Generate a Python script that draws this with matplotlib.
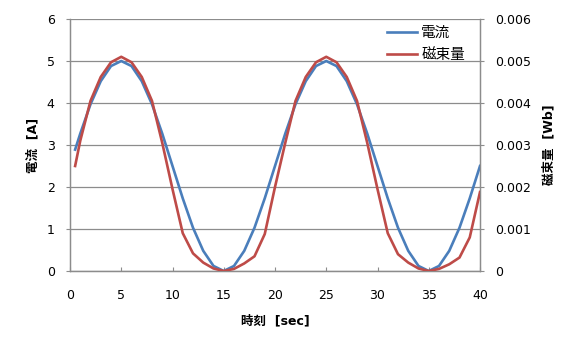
import matplotlib
matplotlib.use("Agg")
import matplotlib.pyplot as plt

plt.rcParams['font.family'] = ['DejaVu Sans', 'Noto Sans CJK JP']

# time [sec]
time_s = [0.5, 1, 2, 3, 4, 5, 6, 7, 8, 9, 10, 11, 12, 13, 14, 15, 16, 17, 18, 19, 20,
          21, 22, 23, 24, 25, 26, 27, 28, 29, 30, 31, 32, 33, 34, 35, 36, 37, 38, 39, 40]
# current [A]
current_a = [2.89, 3.27, 3.97, 4.52, 4.88, 5.0, 4.88, 4.52, 3.97, 3.27, 2.5, 1.73, 1.03,
             0.48, 0.12, 0.0, 0.12, 0.48, 1.03, 1.73, 2.5,
             3.27, 3.97, 4.52, 4.88, 5.0, 4.88, 4.52, 3.97, 3.27, 2.5, 1.73, 1.03,
             0.48, 0.12, 0.0, 0.12, 0.48, 1.03, 1.73, 2.5]
# magnetic flux [Wb]
flux_wb = [0.0025, 0.0031, 0.00405, 0.00462, 0.00497, 0.0051, 0.00497, 0.00462, 0.00405,
           0.00305, 0.00195, 0.0009, 0.00042, 0.0002, 0.00006, 0.0, 0.00005, 0.00018,
           0.00035, 0.00088, 0.0020,
           0.00305, 0.00405, 0.00462, 0.00497, 0.0051, 0.00497, 0.00462, 0.00405,
           0.00305, 0.00195, 0.0009, 0.0004, 0.0002, 0.00006, 0.0, 0.00005, 0.00016,
           0.00032, 0.0008, 0.00188]

left_ticks = [0, 1, 2, 3, 4, 5, 6]
right_ticks = [0, 0.001, 0.002, 0.003, 0.004, 0.005, 0.006]
right_tick_labels = ['0', '0.001', '0.002', '0.003', '0.004', '0.005', '0.006']
x_ticks = [0, 5, 10, 15, 20, 25, 30, 35, 40]

BLUE = '#4A7EBB'
RED = '#BE4B48'
GRID = '#8C8C8C'

W, H = 578, 348
fig = plt.figure(figsize=(W / 100, H / 100), dpi=100)
fig.subplots_adjust(left=70 / W, right=480 / W, bottom=1 - 271 / H, top=1 - 19 / H)
ax = fig.add_subplot(111)
ax2 = ax.twinx()

l1, = ax.plot(time_s, current_a, color=BLUE, lw=1.9, label='電流', zorder=3)
l2, = ax2.plot(time_s, flux_wb, color=RED, lw=1.9, label='磁束量', zorder=3)

ax.set_xlim(0, 40)
ax.set_ylim(0, 6)
ax2.set_ylim(0, 0.006)
ax.set_xticks(x_ticks)
ax.set_yticks(left_ticks)
ax2.set_yticks(right_ticks)
ax2.set_yticklabels(right_tick_labels)

ax.grid(axis='y', color=GRID, lw=0.9)
ax.set_axisbelow(True)

for a in (ax, ax2):
    for s in a.spines.values():
        s.set_color(GRID)
        s.set_linewidth(0.9)
    a.spines['top'].set_visible(False)

ax.tick_params(axis='x', direction='in', length=3, color=GRID, labelsize=9, pad=13)
ax.tick_params(axis='y', direction='out', length=3, color=GRID, labelsize=9, pad=8)
ax2.tick_params(axis='y', direction='out', length=3, color=GRID, labelsize=9, pad=8)

ax.set_xlabel('時刻  [sec]', fontsize=9, fontweight='bold', labelpad=9)
ax.set_ylabel('電流  [A]', fontsize=9, fontweight='bold', labelpad=5)
ax2.set_ylabel('磁束量  [Wb]', fontsize=9, fontweight='bold', rotation=90, labelpad=8)

leg = ax2.legend(handles=[l1, l2], loc='upper left',
                 bbox_to_anchor=(381 / W, 1 - 19 / H), bbox_transform=fig.transFigure,
                 frameon=False, fontsize=10.5, handlelength=2.1, handletextpad=0.25,
                 labelspacing=0.5, borderaxespad=0)

fig.savefig('out.png', dpi=100)
